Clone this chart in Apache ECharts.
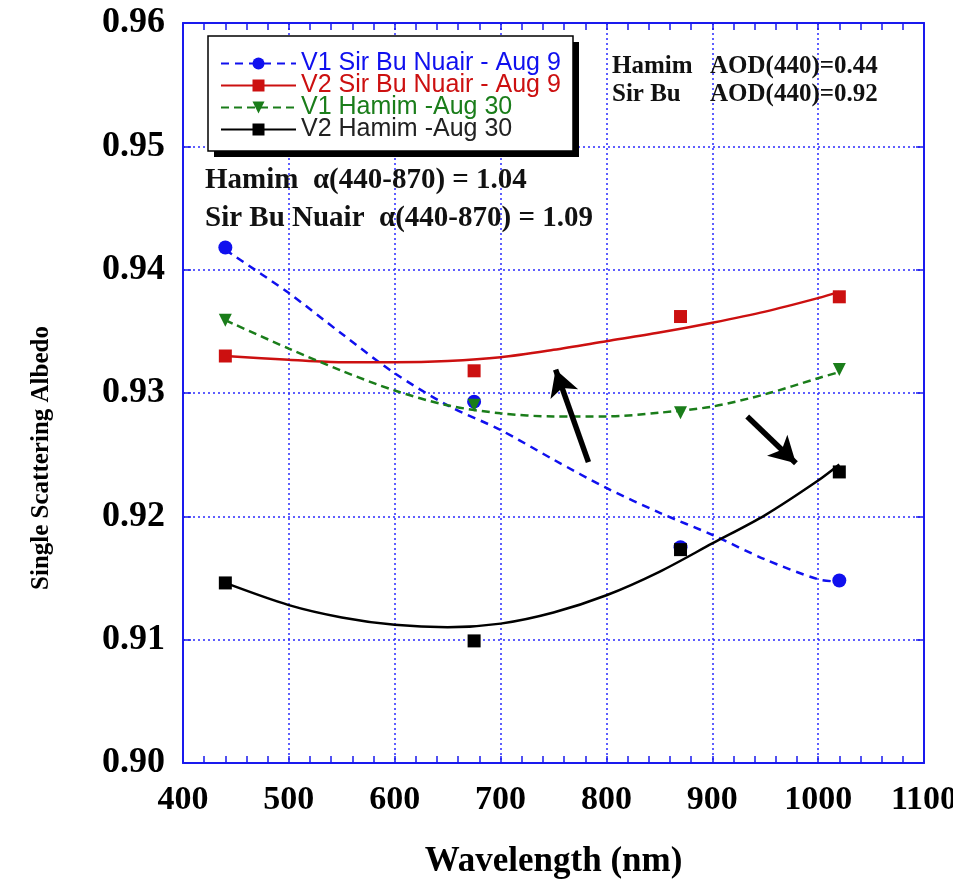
<!DOCTYPE html>
<html>
<head>
<meta charset="utf-8">
<title>Single Scattering Albedo</title>
<script src="https://cdn.jsdelivr.net/npm/echarts@6/dist/echarts.min.js"></script>
<style>
  html, body { margin: 0; padding: 0; background: #fff; }
  #main { width: 953px; height: 883px; }
</style>
</head>
<body>
<div id="main"></div>
<script>
// 测量波长 (nm)
var wavelengths = [440, 675, 870, 1020];
// 测量值
var v1SirBu = [0.9418, 0.9293, 0.9175, 0.9148];
var v2SirBu = [0.9330, 0.9318, 0.9362, 0.9378];
var v1Hamim = [0.9359, 0.9290, 0.9284, 0.9319];
var v2Hamim = [0.9146, 0.9099, 0.9173, 0.9236];

// 拟合曲线
var fitX = [440, 500, 550, 600, 650, 700, 750, 800, 850, 900, 950, 1000, 1020];
var fitV1SirBu = [0.9416, 0.9381, 0.9348, 0.9316, 0.9290, 0.9270, 0.9246, 0.9223, 0.9203, 0.9185, 0.9165, 0.9149, 0.9147];
var fitV2SirBu = [0.9330, 0.9327, 0.9325, 0.9325, 0.9326, 0.9329, 0.9335, 0.9342, 0.9349, 0.9357, 0.9366, 0.9377, 0.9382];
var fitV1Hamim = [0.9359, 0.9336, 0.9318, 0.9302, 0.9290, 0.92835, 0.9281, 0.9281, 0.9284, 0.9289, 0.9299, 0.9312, 0.9317];
var fitV2Hamim = [0.9146, 0.9128, 0.9118, 0.9112, 0.9110, 0.9113, 0.9122, 0.9136, 0.9155, 0.9178, 0.9201, 0.9229, 0.9242];

// 刻度
var xTicks = [400, 500, 600, 700, 800, 900, 1000, 1100];
var yTicks = [0.90, 0.91, 0.92, 0.93, 0.94, 0.95, 0.96];

// 两个箭头 [起点, 终点]
var arrowUp = [[783, 0.9244], [752, 0.9319]];
var arrowDown = [[933, 0.9281], [979, 0.9243]];

var names = ['V1 Sir Bu Nuair - Aug 9', 'V2 Sir Bu Nuair - Aug 9', 'V1 Hamim -Aug 30', 'V2 Hamim -Aug 30'];
var colors = ['#1010ee', '#cc1010', '#1a7d1a', '#000000'];

function pairs(xs, ys) {
  return xs.map(function (x, i) { return [x, ys[i]]; });
}

var myChart = echarts.init(document.getElementById('main'));

var axisBlue = '#1a1aee';
var serif = 'Liberation Serif';

function xAxisCfg(pos) {
  return {
    type: 'value',
    position: pos,
    min: xTicks[0],
    max: xTicks[xTicks.length - 1],
    interval: 100,
    axisLine: { show: true, onZero: false, lineStyle: { color: axisBlue, width: 2 } },
    axisTick: { show: true, inside: true, length: 7, lineStyle: { color: axisBlue, width: 1.5 } },
    minorTick: { show: true, splitNumber: 5, length: 7, lineStyle: { color: axisBlue, width: 1.5 } },
    axisLabel: {
      show: pos === 'bottom', margin: 20, color: '#000',
      fontFamily: serif, fontWeight: 'bold', fontSize: 34,
      formatter: function (v) { return String(v); }
    },
    splitLine: { show: pos === 'bottom', lineStyle: { color: '#2a2aff', type: [2, 3], width: 1.5 } },
    name: pos === 'bottom' ? 'Wavelength (nm)' : '',
    nameLocation: 'middle',
    nameGap: 81,
    nameTextStyle: { fontFamily: serif, fontWeight: 'bold', fontSize: 35, color: '#000' }
  };
}

function yAxisCfg(pos) {
  return {
    type: 'value',
    position: pos,
    min: yTicks[0],
    max: yTicks[yTicks.length - 1],
    interval: 0.01,
    axisLine: { show: true, onZero: false, lineStyle: { color: axisBlue, width: 2 } },
    axisTick: { show: true, inside: true, length: 8, lineStyle: { color: axisBlue, width: 1.5 } },
    axisLabel: {
      show: pos === 'left', margin: 18, color: '#000',
      fontFamily: serif, fontWeight: 'bold', fontSize: 36,
      formatter: function (v) { return v.toFixed(2); }
    },
    splitLine: { show: pos === 'left', lineStyle: { color: '#2a2aff', type: [2, 3], width: 1.5 } }
  };
}

var symbols = ['circle', 'rect', 'triangle', 'rect'];
var rotates = [0, 0, 180, 0];
var lineTypes = [[8, 6], 'solid', [8, 5], 'solid'];
var fits = [fitV1SirBu, fitV2SirBu, fitV1Hamim, fitV2Hamim];
var points = [v1SirBu, v2SirBu, v1Hamim, v2Hamim];

var series = [];
// 拟合曲线 (图例用)
names.forEach(function (n, i) {
  series.push({
    name: n,
    type: 'line',
    data: pairs(fitX, fits[i]),
    smooth: 0.3,
    showSymbol: false,
    symbol: symbols[i],
    symbolRotate: rotates[i],
    silent: true,
    z: 3,
    itemStyle: { color: colors[i], opacity: 1 },
    lineStyle: { color: colors[i], width: 2.5, type: lineTypes[i] }
  });
});
// 测量点
names.forEach(function (n, i) {
  series.push({
    name: n + ' pts',
    type: 'scatter',
    data: pairs(wavelengths, points[i]),
    symbol: symbols[i],
    symbolRotate: rotates[i],
    symbolSize: i === 0 ? 14 : 13,
    silent: true,
    z: 4,
    itemStyle: { color: colors[i], opacity: 1 }
  });
});
// 箭头
series[3].markLine = {
  silent: true,
  symbol: ['none', 'arrow'],
  symbolSize: [22, 26],
  label: { show: false },
  lineStyle: { color: '#000', width: 5.5, type: 'solid' },
  emphasis: { disabled: true },
  data: [
    [{ coord: arrowUp[0] }, { coord: arrowUp[1] }],
    [{ coord: arrowDown[0] }, { coord: arrowDown[1] }]
  ]
};

var bold25 = 'bold 25px "Liberation Serif"';
var bold29 = 'bold 29px "Liberation Serif"';

var option = {
  animation: false,
  backgroundColor: '#fff',
  grid: { left: 183, top: 23, right: 29, bottom: 120, containLabel: false, outerBoundsMode: 'none' },
  xAxis: [xAxisCfg('bottom'), xAxisCfg('top')],
  yAxis: [yAxisCfg('left'), yAxisCfg('right')],
  legend: {
    orient: 'vertical',
    left: 208,
    top: 36,
    padding: [15, 14, 12, 12],
    itemWidth: 75,
    itemHeight: 15,
    itemGap: -3,
    selectedMode: false,
    z: 60,
    textStyle: { fontFamily: 'Liberation Sans', fontSize: 25, lineHeight: 22 },
    data: names.map(function (n, i) {
      return { name: n, textStyle: { color: i === 3 ? '#222' : colors[i] } };
    })
  },
  graphic: [
    // 图例框和阴影
    { type: 'rect', z: 50, shape: { x: 214, y: 42, width: 365, height: 115 }, style: { fill: '#000' } },
    { type: 'rect', z: 51, shape: { x: 208, y: 36, width: 365, height: 115 }, style: { fill: '#fff', stroke: '#000', lineWidth: 1.5 } },
    // y 轴标题
    {
      type: 'text', z: 50, x: 42, y: 458, rotation: Math.PI / 2,
      style: { text: 'Single Scattering Albedo', font: 'bold 25px "Liberation Serif"', fill: '#000', align: 'center', verticalAlign: 'middle' }
    },
    { type: 'text', z: 50, left: 612, top: 54, style: { text: 'Hamim', font: bold25, fill: '#111' } },
    { type: 'text', z: 50, left: 710, top: 54, style: { text: 'AOD(440)=0.44', font: bold25, fill: '#111' } },
    { type: 'text', z: 50, left: 612, top: 82, style: { text: 'Sir Bu', font: bold25, fill: '#111' } },
    { type: 'text', z: 50, left: 710, top: 82, style: { text: 'AOD(440)=0.92', font: bold25, fill: '#111' } },
    { type: 'text', z: 50, left: 205, top: 166, style: { text: 'Hamim  \u03b1(440-870) = 1.04', font: bold29, fill: '#111' } },
    { type: 'text', z: 50, left: 205, top: 204, style: { text: 'Sir Bu Nuair  \u03b1(440-870) = 1.09', font: bold29, fill: '#111' } }
  ],
  series: series
};

myChart.setOption(option);
</script>
</body>
</html>
